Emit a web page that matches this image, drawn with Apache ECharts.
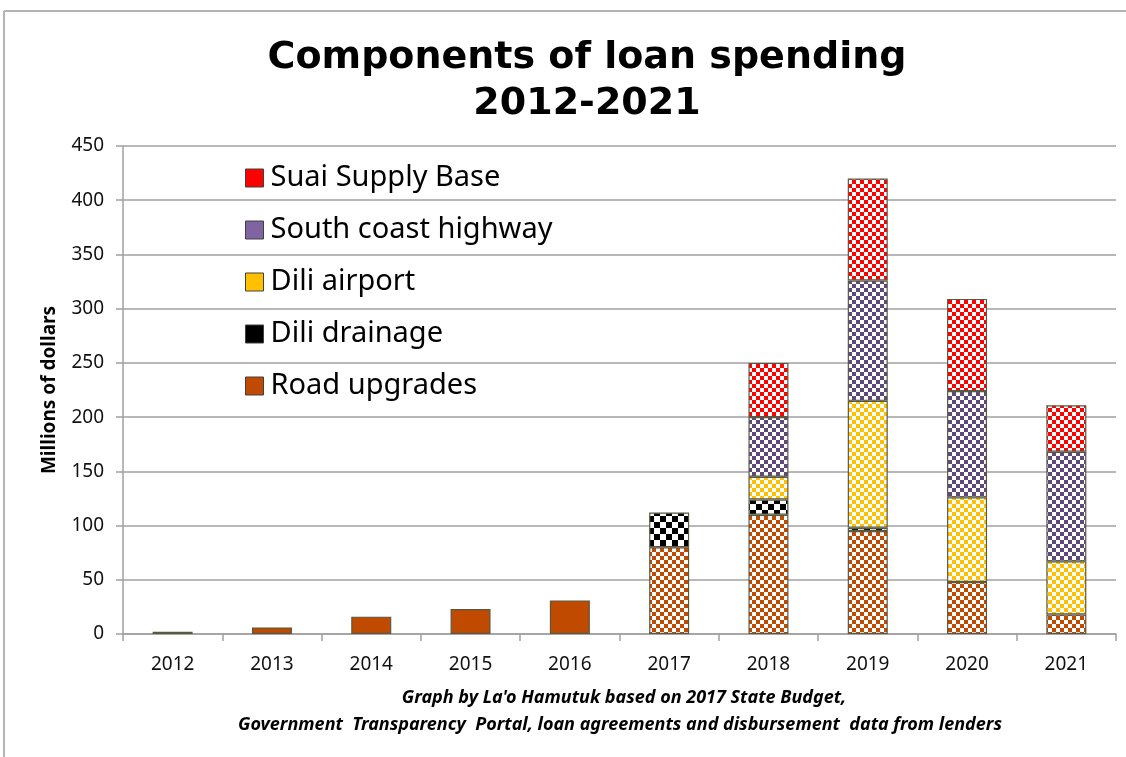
<!DOCTYPE html>
<html>
<head>
<meta charset="utf-8">
<script src="https://cdn.jsdelivr.net/npm/echarts@6/dist/echarts.min.js"></script>
<style>
  html, body { margin: 0; padding: 0; background: #fff; }
  #chart { width: 1126px; height: 757px; }
</style>
</head>
<body>
<div id="chart"></div>
<script>
// Loan spending by component, millions of US dollars
const years = ['2012', '2013', '2014', '2015', '2016', '2017', '2018', '2019', '2020', '2021'];
const roadUpgrades = [2, 6, 16, 23, 31, 80, 110, 95, 48, 18];
const diliDrainage = [0, 0, 0, 0, 0, 32, 14, 3, 0, 0];
const diliAirport = [0, 0, 0, 0, 0, 0, 21, 117, 78, 49];
const southCoastHighway = [0, 0, 0, 0, 0, 0, 55, 111, 98, 101];
const suaiSupplyBase = [0, 0, 0, 0, 0, 0, 50, 94, 85, 43];
// years drawn with a checkered fill
const checkeredYears = ['2017', '2018', '2019', '2020', '2021'];
const yTicks = [0, 50, 100, 150, 200, 250, 300, 350, 400, 450];

const FONT = '"Noto Sans", sans-serif';

// checkerboard fill: coloured and white squares
function checker(color, cell) {
  const c = document.createElement('canvas');
  c.width = cell * 2;
  c.height = cell * 2;
  const ctx = c.getContext('2d');
  ctx.fillStyle = '#ffffff';
  ctx.fillRect(0, 0, c.width, c.height);
  ctx.fillStyle = color;
  ctx.fillRect(0, 0, cell, cell);
  ctx.fillRect(cell, cell, cell, cell);
  return { image: c, repeat: 'repeat' };
}

const seriesDefs = [
  { name: 'Road upgrades', values: roadUpgrades, color: '#C04A00', cell: 4 },
  { name: 'Dili drainage', values: diliDrainage, color: '#000000', cell: 6 },
  { name: 'Dili airport', values: diliAirport, color: '#FFC000', cell: 4 },
  { name: 'South coast highway', values: southCoastHighway, color: '#8064A2', checkColor: '#5F497A', cell: 4 },
  { name: 'Suai Supply Base', values: suaiSupplyBase, color: '#FF0000', cell: 4 }
];

const series = seriesDefs.map(def => {
  const pattern = checker(def.checkColor || def.color, def.cell);
  return {
    name: def.name,
    type: 'bar',
    stack: 'loans',
    barWidth: 40,
    itemStyle: { color: def.color, borderColor: '#595943', borderWidth: 1.2 },
    emphasis: { disabled: true },
    data: def.values.map((v, i) => {
      if (!v) return '-';
      if (checkeredYears.indexOf(years[i]) >= 0) {
        return { value: v, itemStyle: { color: pattern } };
      }
      return v;
    })
  };
});

const chart = echarts.init(document.getElementById('chart'), null, { renderer: 'canvas' });
chart.setOption({
  animation: false,
  backgroundColor: '#ffffff',
  grid: { left: 123, right: 10, top: 146, bottom: 123, containLabel: false },
  legend: {
    orient: 'vertical',
    left: 240,
    top: 158,
    itemWidth: 18,
    itemHeight: 18,
    itemGap: 22,
    icon: 'rect',
    data: seriesDefs.map(d => d.name).reverse(),
    itemStyle: { borderColor: '#404040', borderWidth: 1 },
    textStyle: { fontFamily: FONT, fontSize: 29, color: '#000', lineHeight: 30, padding: [0, 0, 0, 2] },
    selectedMode: false
  },
  xAxis: {
    type: 'category',
    data: years,
    axisLine: { lineStyle: { color: '#a0a0a0', width: 1.5 } },
    axisTick: { show: true, length: 7, lineStyle: { color: '#a0a0a0', width: 1.5 } },
    axisLabel: { fontFamily: FONT, fontSize: 19, color: '#111', margin: 21 }
  },
  yAxis: {
    type: 'value',
    min: yTicks[0],
    max: yTicks[yTicks.length - 1],
    interval: 50,
    name: 'Millions of dollars',
    nameLocation: 'middle',
    nameGap: 64,
    nameTextStyle: { fontFamily: FONT, fontSize: 19, fontWeight: 'bold', color: '#000' },
    axisLine: { show: true, lineStyle: { color: '#a0a0a0', width: 1.5 } },
    axisTick: { show: true, length: 7, lineStyle: { color: '#a0a0a0', width: 1.5 } },
    axisLabel: { fontFamily: FONT, fontSize: 19, color: '#111', margin: 19 },
    splitLine: { lineStyle: { color: '#a0a0a0', width: 1.5 } }
  },
  graphic: [
    { type: 'line', shape: { x1: 4, y1: 11, x2: 1126, y2: 11 }, style: { stroke: '#b4b4b4', lineWidth: 2 } },
    { type: 'line', shape: { x1: 4, y1: 11, x2: 4, y2: 757 }, style: { stroke: '#b4b4b4', lineWidth: 2 } },
    {
      type: 'text', x: 587, y: 35,
      style: {
        text: 'Components of loan spending\n2012-2021',
        font: 'bold 38px "DejaVu Sans", sans-serif',
        fill: '#000', textAlign: 'center', lineHeight: 46
      }
    },
    {
      type: 'text', x: 624, y: 698,
      style: {
        text: "Graph by La'o Hamutuk based on 2017 State Budget,",
        font: 'italic bold 18px "Noto Sans", sans-serif',
        fill: '#000', textAlign: 'center', textVerticalAlign: 'middle'
      }
    },
    {
      type: 'text', x: 620, y: 725,
      style: {
        text: 'Government  Transparency  Portal, loan agreements and disbursement  data from lenders',
        font: 'italic bold 18px "Noto Sans", sans-serif',
        fill: '#000', textAlign: 'center', textVerticalAlign: 'middle'
      }
    }
  ],
  series: series
});
</script>
</body>
</html>
